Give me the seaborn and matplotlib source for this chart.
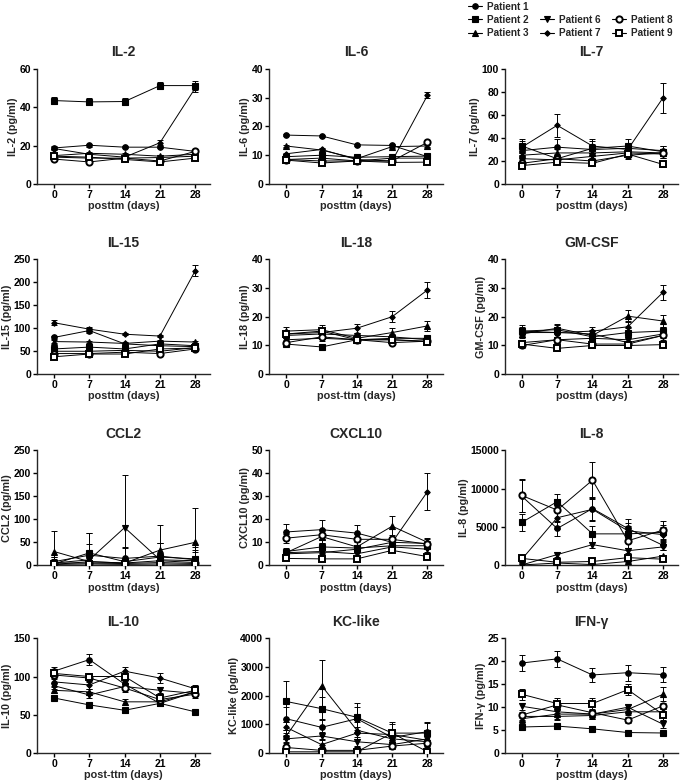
import numpy as np
import pandas as pd
import seaborn as sns
import matplotlib.pyplot as plt
from matplotlib.lines import Line2D

# Days after treatment
days = [0, 7, 14, 21, 28]
patients = ['Patient 1', 'Patient 2', 'Patient 3', 'Patient 6', 'Patient 7', 'Patient 8', 'Patient 9']

# Marker style per patient: (marker, size, filled)
marker_style = {
    'Patient 1': ('o', 4, True),
    'Patient 2': ('s', 4.5, True),
    'Patient 3': ('^', 4, True),
    'Patient 6': ('v', 4, True),
    'Patient 7': ('D', 2.8, True),
    'Patient 8': ('o', 4.5, False),
    'Patient 9': ('s', 4.5, False),
}

# Means per cytokine, one list per patient (order as in `patients`)
il2 = [[18.8, 20.2, 19.2, 19.2, 17], [43.5, 42.8, 43, 51.3, 51.3], [14.8, 16, 15.5, 14.5, 15.5],
       [14, 13.5, 13.5, 13.8, 14.5], [18.5, 15.5, 14, 21.5, 50], [13, 11.5, 13.5, 12, 17],
       [14.5, 14, 12.8, 11.5, 13.5]]
il2_err = [[0.8, 0.8, 0.6, 0.6, 0.8], [1.8, 1.8, 1.8, 2.0, 2.2], [0.6] * 5, [0.6] * 5,
           [0.6, 0.6, 0.6, 1.2, 2.0], [0.6] * 5, [0.6] * 5]

il6 = [[17, 16.7, 13.6, 13.4, 9.5], [9.5, 10, 9.3, 9.5, 9.7], [13.2, 11.8, 8.8, 13, 13.2],
       [8.5, 9, 8, 9, 9], [10.5, 12, 8.5, 8, 30.8], [8.5, 8, 8, 8, 14.5], [8.3, 7.3, 8, 7.5, 7.6]]
il6_err = [[0.4] * 5, [0.4] * 5, [0.4] * 5, [0.4] * 5, [0.4, 0.4, 0.4, 0.4, 1.0], [0.4] * 5, [0.4] * 5]

il7 = [[29, 32, 30, 31, 29], [33, 22, 31, 33, 28], [25, 27, 27, 28, 27], [22, 21, 24, 27, 26],
       [32, 51, 33, 30, 75], [18, 22, 20, 25, 27], [16, 19, 18, 26, 17]]
il7_err = [[4, 7, 5, 4, 4], [6, 4, 6, 6, 5], [3] * 5, [3] * 5, [5, 10, 6, 4, 13], [3] * 5, [2] * 5]

il15 = [[80, 95, 66, 62, 60], [55, 59, 55, 66, 62], [71, 70, 67, 72, 70], [50, 50, 52, 50, 58],
        [112, 98, 87, 83, 225], [45, 45, 48, 45, 55], [38, 44, 44, 55, 57]]
il15_err = [[4, 5, 3, 3, 3], [3] * 5, [3] * 5, [3] * 5, [6, 5, 2, 2, 12], [3] * 5, [3] * 5]

il18 = [[13.5, 14, 13.5, 13, 12], [10.5, 9.5, 12, 12.5, 12.5], [15, 15.5, 12.5, 14.5, 16.8],
        [12, 12.5, 12, 12, 11.5], [14, 14.5, 16, 20, 29.3], [11, 13, 12, 11, 11.5],
        [14, 15, 12, 12, 11.3]]
il18_err = [[1] * 5, [0.6] * 5, [1.5, 1.5, 1.2, 1.5, 1.8], [0.8] * 5, [1.5, 1.5, 1.5, 2, 2.8],
            [0.8] * 5, [0.8] * 5]

gmcsf = [[14.5, 14.5, 14, 11, 13.5], [15, 15.5, 13, 14.5, 15], [14, 16, 13.5, 20.2, 18.5],
         [11, 12, 12.5, 12, 14], [15, 14.5, 15, 16.5, 28.5], [10, 12, 10.5, 10.5, 13.5],
         [10.5, 9, 10, 10, 10.3]]
gmcsf_err = [[1.5] * 5, [1.5] * 5, [1.5, 1.5, 1.5, 2.2, 2], [1] * 5, [2, 2, 1.5, 2, 2.6],
             [1] * 5, [0.8] * 5]

ccl2 = [[8, 22, 15, 20, 12], [3, 27, 8, 18, 14], [30, 8, 5, 33, 50], [5, 12, 82, 12, 10],
        [2, 8, 5, 10, 6], [5, 5, 4, 6, 4], [2, 3, 2, 3, 2]]
ccl2_err = [[10, 48, 25, 28, 28], [15, 20, 30, 30, 20], [45, 10, 8, 55, 75], [8, 58, 115, 37, 20],
            [5, 8, 5, 8, 5], [4] * 5, [3] * 5]

cxcl10 = [[14.5, 15.5, 14, 10, 9.5], [6, 8, 7.5, 8.5, 8.5], [5.5, 12.5, 8, 17, 10],
          [5.5, 6, 5, 8, 7], [5, 5.5, 7, 10, 32], [11.8, 13.3, 11.3, 11.3, 9.2],
          [3, 2.8, 2.8, 6.5, 3.8]]
cxcl10_err = [[3.5, 4, 3.5, 2, 2], [1.5] * 5, [1, 3, 2, 4.5, 2], [1] * 5, [1, 1, 1, 2, 8],
              [2, 2.5, 2.5, 2, 1.5], [0.6] * 5]

il8 = [[9000, 4800, 7400, 4800, 2600], [5600, 8300, 4100, 4100, 4300], [50, 300, 100, 500, 1200],
       [50, 1400, 2700, 1900, 2400], [800, 6200, 7300, 4500, 4000], [9100, 7200, 11100, 3200, 4600],
       [900, 400, 500, 1000, 800]]
il8_err = [[2100, 1000, 1500, 1200, 600], [1100, 1000, 1000, 1000, 1000], [100] * 5,
           [100, 300, 400, 300, 400], [200, 1500, 1500, 1000, 1000], [2100, 1500, 2400, 900, 1200],
           [200] * 5]

il10 = [[107, 122, 90, 65, 80], [72, 63, 56, 65, 54], [82, 80, 67, 67, 80], [88, 76, 87, 82, 78],
        [93, 89, 107, 98, 84], [102, 98, 85, 70, 77], [104, 100, 100, 72, 82]]
il10_err = [[6, 7, 4, 4, 5], [3] * 5, [4] * 5, [4] * 5, [5, 5, 6, 6, 5], [5] * 5, [5] * 5]

kc = [[1200, 900, 1200, 550, 750], [1800, 1550, 1250, 700, 700], [600, 2350, 800, 500, 400],
      [500, 600, 400, 300, 500], [900, 300, 700, 650, 450], [200, 100, 100, 250, 350],
      [50, 50, 50, 700, 50]]
kc_err = [[400, 300, 400, 200, 300], [700, 400, 500, 400, 400], [200, 900, 300, 200, 200],
          [150] * 5, [200] * 5, [100] * 5, [50, 50, 50, 300, 50]]

ifng = [[19.6, 20.5, 17, 17.5, 17.1], [5.7, 5.9, 5.3, 4.5, 4.4], [7.5, 8.5, 8.5, 9.5, 12.8],
        [10.2, 9, 8.5, 10, 6.3], [8, 8, 8.2, 9, 9], [8.3, 10.5, 8.8, 7.2, 10.3],
        [12.8, 10.8, 10.8, 13.8, 8.4]]
ifng_err = [[1.7, 1.8, 1.6, 1.7, 1.6], [0.3] * 5, [1, 1, 1, 1, 1.5], [0.8] * 5, [0.8] * 5,
            [0.7] * 5, [1.2] * 5]

panels = [
    ('IL-2', 'IL-2 (pg/ml)', 'posttm (days)', il2, il2_err, 60, 20),
    ('IL-6', 'IL-6 (pg/ml)', 'posttm (days)', il6, il6_err, 40, 10),
    ('IL-7', 'IL-7 (pg/ml)', 'posttm (days)', il7, il7_err, 100, 20),
    ('IL-15', 'IL-15 (pg/ml)', 'posttm (days)', il15, il15_err, 250, 50),
    ('IL-18', 'IL-18 (pg/ml)', 'post-ttm (days)', il18, il18_err, 40, 10),
    ('GM-CSF', 'GM-CSF (pg/ml)', 'posttm (days)', gmcsf, gmcsf_err, 40, 10),
    ('CCL2', 'CCL2 (pg/ml)', 'posttm (days)', ccl2, ccl2_err, 250, 50),
    ('CXCL10', 'CXCL10 (pg/ml)', 'posttm (days)', cxcl10, cxcl10_err, 50, 10),
    ('IL-8', 'IL-8 (pg/ml)', 'posttm (days)', il8, il8_err, 15000, 5000),
    ('IL-10', 'IL-10 (pg/ml)', 'post-ttm (days)', il10, il10_err, 150, 50),
    ('KC-like', 'KC-like (pg/ml)', 'posttm (days)', kc, kc_err, 4000, 1000),
    ('IFN-γ', 'IFN-γ (pg/ml)', 'posttm (days)', ifng, ifng_err, 25, 5),
]

sns.set_theme(style='ticks')
plt.rcParams['font.family'] = ['Liberation Sans', 'DejaVu Sans']
plt.rcParams['font.weight'] = 'bold'
plt.rcParams['axes.linewidth'] = 1.0
plt.rcParams['xtick.major.width'] = 1.0
plt.rcParams['ytick.major.width'] = 1.0
plt.rcParams['xtick.major.size'] = 3
plt.rcParams['ytick.major.size'] = 3

fig = plt.figure(figsize=(6.83, 7.83), dpi=100)

col_x = [0.054, 0.394, 0.739]
ax_w = 0.254
row_y = [0.765, 0.522, 0.278, 0.038]
ax_h = 0.147

for i, (title, ylab, xlab, means, errs, ymax, ystep) in enumerate(panels):
    r, c = divmod(i, 3)
    ax = fig.add_axes([col_x[c], row_y[r], ax_w, ax_h])
    for p, vals, err in zip(patients, means, errs):
        m, ms, filled = marker_style[p]
        ax.errorbar(days, vals, yerr=err, fmt='none', ecolor='black',
                    elinewidth=0.7, capsize=2.5, capthick=0.7, zorder=2)
        df = pd.DataFrame({'day': days, 'value': vals})
        sns.lineplot(data=df, x='day', y='value', ax=ax, color='black', linewidth=0.7,
                     marker=m, markersize=ms, markeredgecolor='black',
                     markerfacecolor='black' if filled else 'white',
                     markeredgewidth=0.8 if filled else 1.4, zorder=3)
    ax.set_xlim(-3.4, 31)
    ax.set_ylim(0, ymax)
    ax.set_xticks(days)
    ax.set_yticks(np.arange(0, ymax + ystep / 2, ystep))
    ax.tick_params(labelsize=7.5, pad=1.2, colors='black')
    ax.set_title(title, fontsize=10, fontweight='bold', pad=9)
    ax.set_ylabel(ylab, fontsize=7.8, fontweight='bold', labelpad=1)
    ax.set_xlabel(xlab, fontsize=7.8, fontweight='bold', labelpad=1)
    sns.despine(ax=ax)

# Legend with blank slots so Patient 1 sits alone in its row
handles, labels = [], []
blank = Line2D([], [], alpha=0)
order = ['Patient 1', 'Patient 2', 'Patient 3', None, 'Patient 6', 'Patient 7',
         None, 'Patient 8', 'Patient 9']
for p in order:
    if p is None:
        handles.append(blank)
        labels.append('')
        continue
    m, ms, filled = marker_style[p]
    handles.append(Line2D([], [], color='black', linewidth=0.8, marker=m, markersize=ms,
                          markerfacecolor='black' if filled else 'white',
                          markeredgecolor='black', markeredgewidth=0.8 if filled else 1.4))
    labels.append(p)
fig.legend(handles, labels, loc='upper right', bbox_to_anchor=(0.99, 1.003), ncol=3,
           frameon=False, fontsize=7.2, handlelength=1.4, handletextpad=0.5,
           columnspacing=1.1, labelspacing=0.32, borderaxespad=0)

plt.savefig('out.png', dpi=100)
